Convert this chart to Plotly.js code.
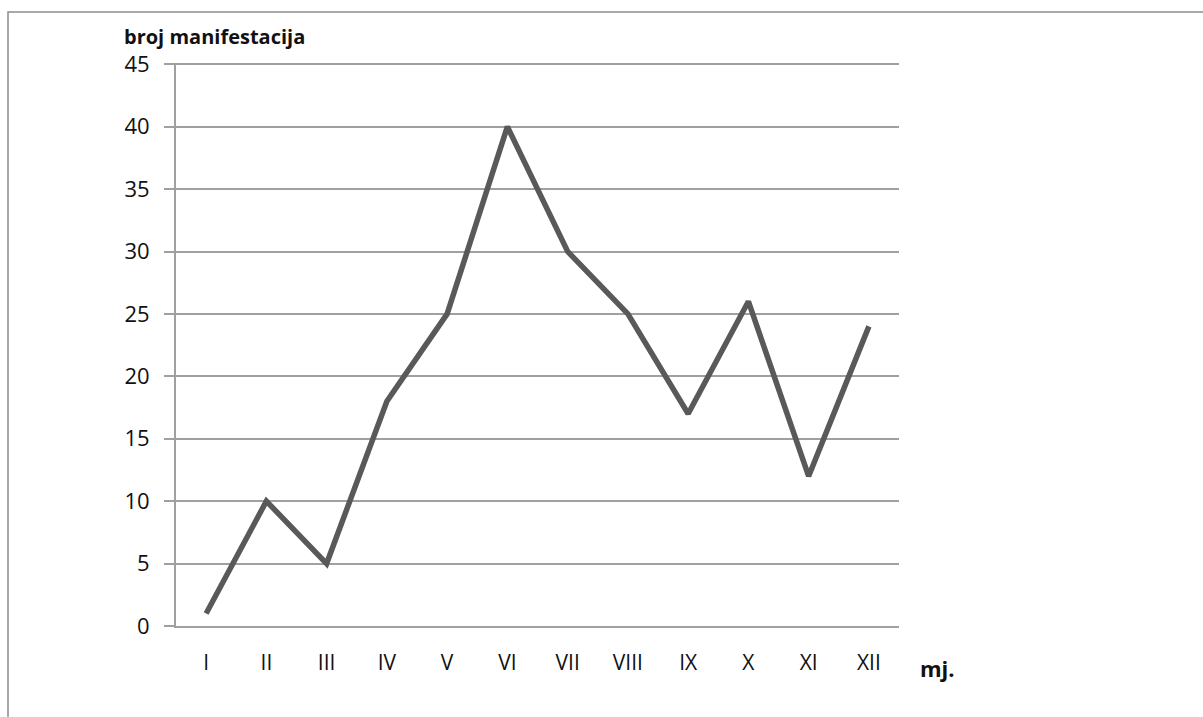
<!DOCTYPE html>
<html>
<head>
<meta charset="utf-8">
<script src="https://cdn.plot.ly/plotly-3.0.1.min.js"></script>
<style>html,body{margin:0;padding:0;background:#fff;}#chart{width:1203px;height:717px;}</style>
</head>
<body>
<div id="chart"></div>
<script>
const months = ["I","II","III","IV","V","VI","VII","VIII","IX","X","XI","XII"];
const manifestations = [1,10,5,18,25,40,30,25,17,26,12,24];
const yTicks = [0,5,10,15,20,25,30,35,40,45];

const W = 1203, H = 717;
const L = 176, R = 304, T = 63, B = 91;
const pw = W - L - R, ph = H - T - B;
const px = v => (v - L) / pw;
const py = v => 1 - (v - T) / ph;

const font = "Open Sans, Liberation Sans, sans-serif";

const trace = {
  x: months, y: manifestations, type: "scatter", mode: "lines",
  line: {color: "#595959", width: 5.5}, hoverinfo: "x+y"
};

const layout = {
  width: W, height: H,
  margin: {l: L, r: R, t: T, b: B, pad: 0},
  paper_bgcolor: "#fff", plot_bgcolor: "#fff",
  showlegend: false,
  font: {family: font, color: "#111"},
  xaxis: {
    type: "category", categoryorder: "array", categoryarray: months,
    range: [-0.5, 11.5], showgrid: false, zeroline: false,
    showline: true, linecolor: "#a0a0a0", linewidth: 2,
    ticks: "", ticklabelstandoff: 17,
    tickfont: {family: font, size: 21, color: "#111"}
  },
  yaxis: {
    range: [0, 45.1], tickvals: yTicks, ticktext: yTicks.map(String),
    showgrid: true, gridcolor: "#a0a0a0", gridwidth: 2, zeroline: false,
    showline: true, linecolor: "#a0a0a0", linewidth: 2,
    ticks: "outside", ticklen: 10, tickcolor: "#a0a0a0", tickwidth: 2,
    ticklabelstandoff: 10,
    tickfont: {family: font, size: 22, color: "#111"}
  },
  annotations: [
    {text: "<b>broj manifestacija</b>", xref: "paper", yref: "paper",
     x: px(122), y: py(36), xanchor: "left", yanchor: "middle", showarrow: false,
     font: {family: font, size: 20, color: "#111"}},
    {text: "<b>mj.</b>", xref: "paper", yref: "paper",
     x: px(918), y: py(668), xanchor: "left", yanchor: "middle", showarrow: false,
     font: {family: font, size: 22, color: "#111"}}
  ],
  shapes: [
    {type: "rect", xref: "paper", yref: "paper",
     x0: px(8), x1: px(1240), y0: py(12), y1: py(760),
     line: {color: "#8c8c8c", width: 1.5}, fillcolor: "rgba(0,0,0,0)", layer: "below"}
  ]
};

Plotly.newPlot("chart", [trace], layout, {displayModeBar: false, staticPlot: true});
</script>
</body>
</html>
